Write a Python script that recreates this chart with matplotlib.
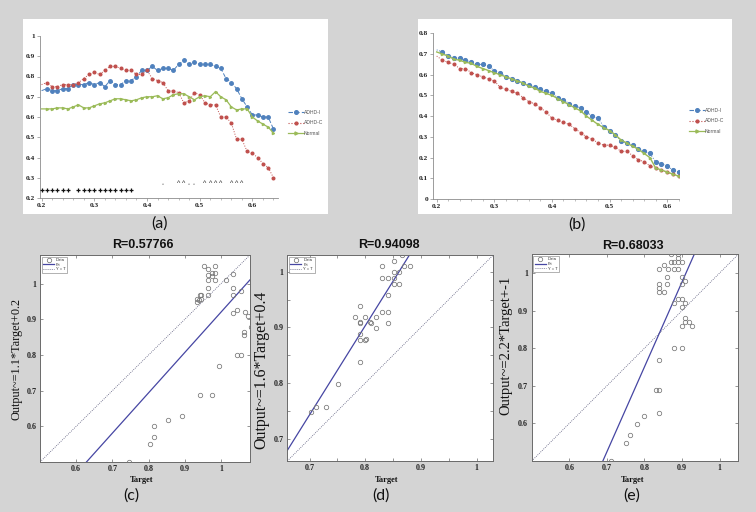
import matplotlib
matplotlib.use('Agg')
import matplotlib.pyplot as plt
from matplotlib.patches import Rectangle
from matplotlib.lines import Line2D

W, H = 756, 512
BG = '#d4d4d4'
BLUE, RED, GREEN = '#4f81bd', '#c0504d', '#9bbb59'

# ---------------- data: panel (a) ----------------
x_a = [0.20, 0.21, 0.22, 0.23, 0.24, 0.25, 0.26, 0.27, 0.28, 0.29,
       0.30, 0.31, 0.32, 0.33, 0.34, 0.35, 0.36, 0.37, 0.38, 0.39,
       0.40, 0.41, 0.42, 0.43, 0.44, 0.45, 0.46, 0.47, 0.48, 0.49,
       0.50, 0.51, 0.52, 0.53, 0.54, 0.55, 0.56, 0.57, 0.58, 0.59,
       0.60, 0.61, 0.62, 0.63, 0.64]
adhd_i_a = [0.73, 0.74, 0.73, 0.73, 0.74, 0.74, 0.76, 0.76, 0.76, 0.77,
            0.76, 0.77, 0.75, 0.78, 0.76, 0.76, 0.78, 0.78, 0.80, 0.83,
            0.83, 0.85, 0.83, 0.84, 0.84, 0.83, 0.86, 0.88, 0.86, 0.87,
            0.86, 0.86, 0.86, 0.85, 0.84, 0.79, 0.77, 0.74, 0.69, 0.65,
            0.61, 0.61, 0.60, 0.60, 0.54]
adhd_c_a = [0.76, 0.77, 0.75, 0.75, 0.76, 0.76, 0.76, 0.77, 0.79, 0.81,
            0.82, 0.81, 0.83, 0.85, 0.85, 0.84, 0.83, 0.83, 0.81, 0.81,
            0.83, 0.79, 0.78, 0.77, 0.73, 0.73, 0.72, 0.67, 0.68, 0.72,
            0.71, 0.67, 0.66, 0.66, 0.60, 0.60, 0.57, 0.49, 0.49, 0.43,
            0.42, 0.40, 0.37, 0.35, 0.30]
normal_a = [0.64, 0.64, 0.64, 0.645, 0.645, 0.64, 0.65, 0.66, 0.645, 0.645,
            0.655, 0.665, 0.67, 0.68, 0.69, 0.69, 0.685, 0.68, 0.685, 0.695,
            0.70, 0.70, 0.705, 0.69, 0.695, 0.71, 0.715, 0.715, 0.70, 0.685,
            0.70, 0.705, 0.70, 0.725, 0.70, 0.685, 0.65, 0.635, 0.64, 0.64,
            0.60, 0.58, 0.565, 0.55, 0.52]
sig_plus_x = [0.20, 0.21, 0.22, 0.23, 0.24, 0.25,
              0.27, 0.28, 0.29, 0.30, 0.31, 0.32, 0.33, 0.34, 0.35, 0.36, 0.37]
sig_plus_y = 0.24
sig_caret_x = [0.46, 0.47, 0.51, 0.52, 0.53, 0.54, 0.56, 0.57, 0.58]
sig_small_x = [0.43, 0.48, 0.49]
sig_caret_y = 0.27

# ---------------- data: panel (b) ----------------
x_b = [0.20, 0.21, 0.22, 0.23, 0.24, 0.25, 0.26, 0.27, 0.28, 0.29,
       0.30, 0.31, 0.32, 0.33, 0.34, 0.35, 0.36, 0.37, 0.38, 0.39,
       0.40, 0.41, 0.42, 0.43, 0.44, 0.45, 0.46, 0.47, 0.48, 0.49,
       0.50, 0.51, 0.52, 0.53, 0.54, 0.55, 0.56, 0.57, 0.58, 0.59,
       0.60, 0.61, 0.62]
adhd_i_b = [0.72, 0.71, 0.69, 0.68, 0.68, 0.67, 0.66, 0.65, 0.65, 0.64,
            0.62, 0.61, 0.59, 0.58, 0.57, 0.56, 0.55, 0.54, 0.53, 0.52,
            0.51, 0.49, 0.48, 0.46, 0.45, 0.44, 0.42, 0.40, 0.39, 0.35,
            0.33, 0.31, 0.28, 0.27, 0.26, 0.24, 0.23, 0.22, 0.18, 0.17,
            0.16, 0.14, 0.13]
adhd_c_b = [0.69, 0.67, 0.66, 0.65, 0.63, 0.63, 0.61, 0.60, 0.59, 0.58,
            0.57, 0.54, 0.53, 0.52, 0.51, 0.49, 0.47, 0.46, 0.44, 0.42,
            0.39, 0.38, 0.37, 0.36, 0.34, 0.32, 0.30, 0.29, 0.27, 0.26,
            0.26, 0.25, 0.23, 0.23, 0.21, 0.19, 0.18, 0.16, 0.15, 0.14,
            0.13, 0.12, 0.11]
normal_b = [0.71, 0.70, 0.69, 0.675, 0.67, 0.66, 0.655, 0.64, 0.63, 0.62,
            0.61, 0.60, 0.59, 0.58, 0.57, 0.56, 0.545, 0.535, 0.52, 0.51,
            0.50, 0.485, 0.47, 0.455, 0.44, 0.425, 0.40, 0.38, 0.36, 0.345,
            0.33, 0.31, 0.285, 0.27, 0.255, 0.24, 0.22, 0.20, 0.15, 0.14,
            0.13, 0.12, 0.11]

# ---------------- data: scatter panels ----------------
target_c = [0.745, 0.804, 0.814, 0.814, 0.854, 0.893, 0.943, 0.974, 0.994, 1.043,
            1.054, 1.064, 1.064, 1.065, 1.074, 1.083, 1.034, 1.044, 1.055, 1.034,
            1.034, 1.014, 1.034, 0.933, 0.933, 0.943, 0.944, 0.963, 0.963, 0.963,
            0.954, 0.965, 0.984, 0.965, 0.975, 0.975, 0.984, 0.984, 0.946, 0.939]
output_c = [0.50, 0.55, 0.569, 0.60, 0.619, 0.63, 0.688, 0.688, 0.769, 0.80,
            0.80, 0.865, 0.857, 0.919, 0.910, 0.879, 0.918, 0.927, 0.978, 0.969,
            0.988, 1.009, 1.028, 0.958, 0.949, 0.967, 0.958, 0.969, 0.988, 1.009,
            1.049, 1.042, 1.049, 1.025, 1.030, 1.020, 1.009, 1.030, 0.969, 0.955]
fit_c = (1.13, -0.21)
lim_c = (0.5, 1.08)

target_d = [0.702, 0.711, 0.730, 0.751, 0.790, 0.790, 0.800, 0.790, 0.790, 0.781,
            0.800, 0.790, 0.811, 0.820, 0.820, 0.830, 0.840, 0.840, 0.840, 0.830,
            0.840, 0.851, 0.851, 0.861, 0.851, 0.861, 0.830, 0.870, 0.880, 0.851,
            0.866, 0.809, 0.801, 0.790]
output_d = [0.748, 0.757, 0.757, 0.798, 0.838, 0.878, 0.878, 0.888, 0.908, 0.918,
            0.918, 0.938, 0.908, 0.918, 0.898, 0.928, 0.928, 0.908, 0.958, 0.989,
            0.989, 0.989, 0.978, 0.978, 0.999, 0.999, 1.010, 1.010, 1.010, 1.020,
            1.030, 0.909, 0.879, 0.909]
fit_d = (1.6, -0.377)
lim_d = (0.66, 1.03)

target_e = [0.710, 0.750, 0.761, 0.780, 0.800, 0.840, 0.830, 0.840, 0.840, 0.879,
            0.899, 0.899, 0.909, 0.909, 0.919, 0.928, 0.909, 0.899, 0.889, 0.899,
            0.879, 0.840, 0.851, 0.840, 0.840, 0.860, 0.899, 0.909, 0.899, 0.860,
            0.840, 0.851, 0.862, 0.880, 0.890, 0.870, 0.880, 0.890, 0.899, 0.870,
            0.890, 0.890]
output_e = [0.499, 0.548, 0.569, 0.599, 0.620, 0.629, 0.689, 0.689, 0.769, 0.80,
            0.80, 0.86, 0.88, 0.87, 0.87, 0.86, 0.92, 0.91, 0.93, 0.93,
            0.92, 0.95, 0.95, 0.97, 0.96, 0.97, 0.97, 0.98, 0.99, 0.99,
            1.010, 1.021, 1.010, 1.010, 1.010, 1.030, 1.030, 1.030, 1.030, 1.050,
            1.050, 1.040]
fit_e = (2.26, -1.058)
lim_e = (0.5, 1.05)

# ---------------- helpers ----------------
def fx(px):
    return px / W

def fy(py):
    return 1 - py / H

def axes_px(x0, y0, x1, y1):
    return [fx(x0), fy(y1), (x1 - x0) / W, (y1 - y0) / H]

SERIF = ['Liberation Serif', 'DejaVu Serif']
SANS = ['Liberation Sans', 'DejaVu Sans']

fig = plt.figure(figsize=(W / 100, H / 100), dpi=100, facecolor=BG)

# white panel backgrounds for (a) and (b)
for (x0, y0, x1, y1) in [(23, 19, 328, 214), (418, 19, 732, 214)]:
    fig.add_artist(Rectangle((fx(x0), fy(y1)), (x1 - x0) / W, (y1 - y0) / H,
                             transform=fig.transFigure, facecolor='white',
                             edgecolor='none', zorder=0))


def style_line_axes(ax):
    ax.set_facecolor('none')
    for s in ['top', 'right']:
        ax.spines[s].set_visible(False)
    for s in ['left', 'bottom']:
        ax.spines[s].set_color('#8c8c8c')
        ax.spines[s].set_linewidth(0.6)
    ax.tick_params(direction='out', length=2, width=0.5, color='#8c8c8c',
                   labelsize=5.3, pad=1.5)
    ax.tick_params(which='minor', direction='out', length=1.2, width=0.4, color='#8c8c8c')
    for lab in ax.get_xticklabels() + ax.get_yticklabels():
        lab.set_family(SERIF)
        lab.set_fontweight('bold')
        lab.set_color('#222222')


def legend_excel(ax, anchor):
    handles = [
        Line2D([0, 1], [0, 0], color=BLUE, ls=(0, (4, 2)), lw=0.8, marker='o', ms=2.6, markevery=[1]),
        Line2D([0, 1], [0, 0], color=RED, ls=':', lw=0.8, marker='o', ms=2.0, markevery=[1]),
        Line2D([0, 1], [0, 0], color=GREEN, ls='-', lw=0.9, marker='>', ms=2.2, markevery=[1]),
    ]
    leg = ax.legend(handles, ['ADHD-I', 'ADHD-C', 'Normal'], loc='upper left',
                    bbox_to_anchor=anchor, bbox_transform=fig.transFigure,
                    frameon=False, fontsize=3.6, handlelength=3.2,
                    handletextpad=0.1, labelspacing=1.15, borderpad=0)
    for t in leg.get_texts():
        t.set_color('#555555')
        t.set_family(SANS)


# ---------------- panel (a) ----------------
ax_a = fig.add_axes(axes_px(40, 36, 277.7, 198))
ax_a.plot(x_a, adhd_i_a, color=BLUE, ls=(0, (4, 2)), lw=0.7, marker='o', ms=2.5,
          markevery=slice(1, None), zorder=3)
ax_a.plot(x_a, adhd_c_a, color=RED, ls=':', lw=0.7, marker='o', ms=1.9,
          markevery=slice(1, None), zorder=3)
ax_a.plot(x_a, normal_a, color=GREEN, ls='-', lw=0.9, marker='>', ms=1.6,
          markevery=slice(1, None), zorder=3)
ax_a.plot(sig_plus_x, [sig_plus_y] * len(sig_plus_x), ls='none', marker='+',
          color='#111111', ms=3.4, mew=0.9, zorder=4)
for xv in sig_caret_x:
    ax_a.text(xv, sig_caret_y, '^', ha='center', va='center', fontsize=5,
              color='#222222', family=SANS)
for xv in sig_small_x:
    ax_a.text(xv, sig_caret_y - 0.005, '^', ha='center', va='center', fontsize=3.2,
              color='#444444', family=SANS)
ax_a.set_xlim(0.197, 0.648)
ax_a.set_ylim(0.2, 1.0)
ax_a.set_xticks([0.2, 0.3, 0.4, 0.5, 0.6])
ax_a.set_xticklabels(['0.2', '0.3', '0.4', '0.5', '0.6'])
ax_a.set_yticks([0.2, 0.3, 0.4, 0.5, 0.6, 0.7, 0.8, 0.9, 1.0])
ax_a.set_yticklabels(['0.2', '0.3', '0.4', '0.5', '0.6', '0.7', '0.8', '0.9', '1'])
ax_a.set_xticks([0.22, 0.24, 0.26, 0.28, 0.32, 0.34, 0.36, 0.38, 0.42, 0.44,
                 0.46, 0.48, 0.52, 0.54, 0.56, 0.58, 0.62, 0.64], minor=True)
style_line_axes(ax_a)
legend_excel(ax_a, (fx(285), fy(107)))

# ---------------- panel (b) ----------------
ax_b = fig.add_axes(axes_px(433, 33.3, 679, 199))
ax_b.plot(x_b, adhd_i_b, color=BLUE, ls=':', lw=0.7, marker='o', ms=2.7,
          markevery=slice(1, None), zorder=3)
ax_b.plot(x_b, adhd_c_b, color=RED, ls=':', lw=0.7, marker='o', ms=1.9,
          markevery=slice(1, None), zorder=3)
ax_b.plot(x_b, normal_b, color=GREEN, ls='-', lw=1.0, marker='>', ms=1.6,
          markevery=slice(1, None), zorder=3)
ax_b.set_xlim(0.1936, 0.6206)
ax_b.set_ylim(0, 0.8)
ax_b.set_xticks([0.2, 0.3, 0.4, 0.5, 0.6])
ax_b.set_xticklabels(['0.2', '0.3', '0.4', '0.5', '0.6'])
ax_b.set_yticks([0, 0.1, 0.2, 0.3, 0.4, 0.5, 0.6, 0.7, 0.8])
ax_b.set_yticklabels(['0', '0.1', '0.2', '0.3', '0.4', '0.5', '0.6', '0.7', '0.8'])
ax_b.set_xticks([0.22, 0.24, 0.26, 0.28, 0.32, 0.34, 0.36, 0.38, 0.42, 0.44,
                 0.46, 0.48, 0.52, 0.54, 0.56, 0.58, 0.62], minor=True)
style_line_axes(ax_b)
legend_excel(ax_b, (fx(686), fy(105)))

# panel letters
for txt, px, py in [('(a)', 160, 224), ('(b)', 577, 225),
                    ('(c)', 131, 496), ('(d)', 381, 496), ('(e)', 632, 496)]:
    fig.text(fx(px), fy(py), txt, ha='center', va='center', fontsize=11.5,
             family=['Lato', 'DejaVu Sans'], color='#111111')


# ---------------- scatter panels ----------------
def scatter_panel(rect, tx, oy, fit, lim, ticks, minor, title, title_xy, ylabel,
                  ylab_xy, ylab_size, xlab_xy):
    ax = fig.add_axes(axes_px(*rect))
    ax.set_facecolor('white')
    ax.plot(tx, oy, ls='none', marker='o', mfc='none', mec='#777777', ms=3.2,
            mew=0.55, zorder=3, label='Data')
    xs = [lim[0], lim[1]]
    ax.plot(xs, [fit[0] * v + fit[1] for v in xs], color='#4646a3', lw=0.9,
            zorder=2, label='Fit')
    ax.plot(xs, xs, color='#555577', ls=(0, (1, 1.5)), lw=0.6, zorder=2,
            label='Y = T')
    ax.set_xlim(*lim)
    ax.set_ylim(*lim)
    ax.set_xticks(ticks)
    ax.set_yticks(ticks)
    labels = [('1' if abs(t - 1) < 1e-9 else f'{t:.1f}') for t in ticks]
    ax.set_xticklabels(labels)
    ax.set_yticklabels(labels)
    if minor:
        ax.set_xticks(minor, minor=True)
        ax.set_yticks(minor, minor=True)
    for s in ax.spines.values():
        s.set_color('#6a6a6a')
        s.set_linewidth(0.7)
    ax.tick_params(direction='in', length=2.5, width=0.5, color='#6a6a6a',
                   top=True, right=True, labelsize=5.8, pad=2.5)
    ax.tick_params(which='minor', direction='in', length=2.5, width=0.5,
                   color='#6a6a6a', top=True, right=True)
    for lab in ax.get_xticklabels() + ax.get_yticklabels():
        lab.set_family(SERIF)
        lab.set_fontweight('bold')
        lab.set_color('#222222')
    leg = ax.legend(loc='upper left', fontsize=3.0, frameon=True, fancybox=False,
                    edgecolor='#777777', handlelength=2.6, borderpad=0.35,
                    labelspacing=0.15, handletextpad=0.5, borderaxespad=0.4)
    leg.get_frame().set_linewidth(0.5)
    for t in leg.get_texts():
        t.set_family(SANS)
        t.set_color('#333333')
    fig.text(fx(title_xy[0]), fy(title_xy[1]), title, ha='center', va='center',
             fontsize=9, fontweight='bold', family=SANS, color='#111111')
    fig.text(fx(ylab_xy[0]), fy(ylab_xy[1]), ylabel, ha='center', va='center',
             rotation=90, fontsize=ylab_size, family=SERIF, color='#111111')
    fig.text(fx(xlab_xy[0]), fy(xlab_xy[1]), 'Target', ha='center', va='center',
             fontsize=6, fontweight='bold', family=SERIF, color='#111111')
    return ax


scatter_panel((40, 255, 250, 462), target_c, output_c, fit_c, lim_c,
              [0.6, 0.7, 0.8, 0.9, 1.0], None, 'R=0.57766', (143, 245),
              'Output~=1.1*Target+0.2', (17, 359), 8.8, (142, 480))
scatter_panel((287.3, 255, 493.3, 461), target_d, output_d, fit_d, lim_d,
              [0.7, 0.8, 0.9, 1.0], [0.75, 0.85, 0.95], 'R=0.94098', (389, 245),
              'Output~=1.6*Target+0.4', (261, 370), 11.5, (387, 480))
scatter_panel((531.7, 254.3, 738.3, 461), target_e, output_e, fit_e, lim_e,
              [0.6, 0.7, 0.8, 0.9, 1.0], None, 'R=0.68033', (633, 246),
              'Output~=2.2*Target+-1', (506, 345), 10.5, (633, 480))

fig.savefig('out.png', dpi=100, facecolor=BG)
